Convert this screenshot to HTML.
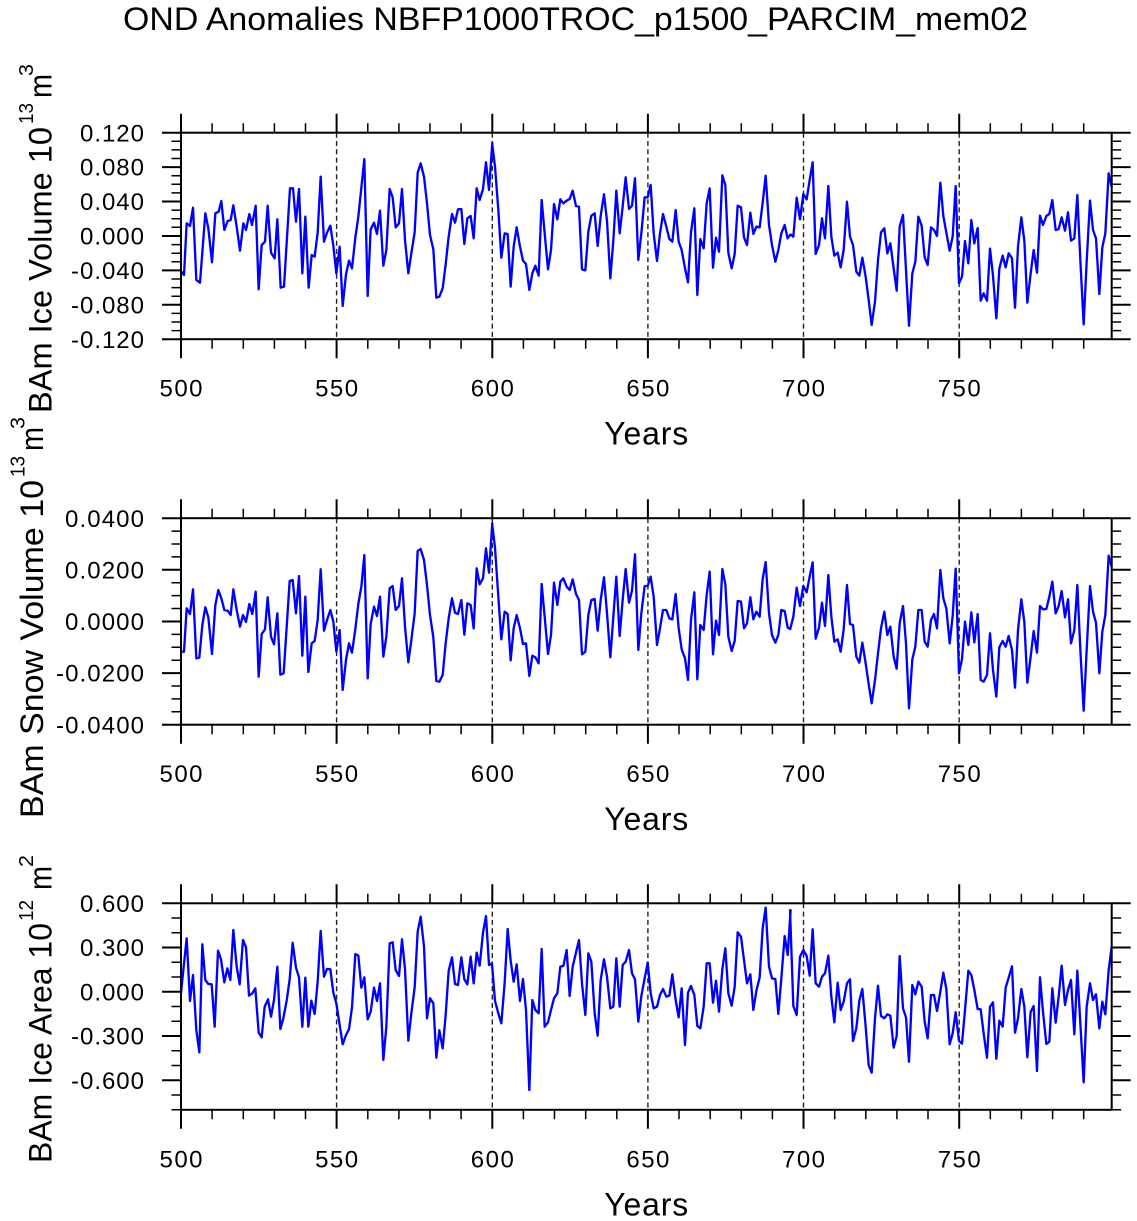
<!DOCTYPE html>
<html>
<head>
<meta charset="utf-8">
<style>
html,body{margin:0;padding:0;background:#fff;}
svg{display:block;}
text{font-family:"Liberation Sans",Arial,sans-serif;fill:#000;}
</style>
</head>
<body>
<svg width="1137" height="1221" viewBox="0 0 1137 1221" xmlns="http://www.w3.org/2000/svg">
<rect x="0" y="0" width="1137" height="1221" fill="#fff"/>
<defs>
  <g id="xtmaj"><path d="M181 0v-19M336.6 0v-19M492.3 0v-19M647.9 0v-19M803.5 0v-19M959.2 0v-19" stroke="#000" stroke-width="2" fill="none"/></g>
  <g id="xtmin"><path d="M212.1 0v-9.5M243.3 0v-9.5M274.4 0v-9.5M305.5 0v-9.5M367.8 0v-9.5M398.9 0v-9.5M430 0v-9.5M461.1 0v-9.5M523.4 0v-9.5M554.5 0v-9.5M585.7 0v-9.5M616.8 0v-9.5M679 0v-9.5M710.2 0v-9.5M741.3 0v-9.5M772.4 0v-9.5M834.7 0v-9.5M865.8 0v-9.5M896.9 0v-9.5M928 0v-9.5M990.3 0v-9.5M1021.4 0v-9.5M1052.6 0v-9.5M1083.7 0v-9.5" stroke="#000" stroke-width="1.5" fill="none"/></g>
  <g id="p1y">
    <path d="M181 132.7h-19M181 167.1h-19M181 201.5h-19M181 235.95h-19M181 270.4h-19M181 304.8h-19M181 339.2h-19" stroke="#000" stroke-width="2" fill="none"/>
    <path d="M181 141.3h-9.5M181 149.9h-9.5M181 158.5h-9.5M181 175.7h-9.5M181 184.3h-9.5M181 192.9h-9.5M181 210.1h-9.5M181 218.7h-9.5M181 227.3h-9.5M181 244.6h-9.5M181 253.2h-9.5M181 261.8h-9.5M181 279h-9.5M181 287.6h-9.5M181 296.2h-9.5M181 313.4h-9.5M181 322h-9.5M181 330.6h-9.5" stroke="#000" stroke-width="1.5" fill="none"/>
  </g>
  <g id="p2y">
    <path d="M181 518.2h-19M181 569.8h-19M181 621.45h-19M181 673.1h-19M181 724.7h-19" stroke="#000" stroke-width="2" fill="none"/>
    <path d="M181 531.1h-9.5M181 544h-9.5M181 556.9h-9.5M181 582.7h-9.5M181 595.6h-9.5M181 608.5h-9.5M181 634.4h-9.5M181 647.3h-9.5M181 660.2h-9.5M181 686h-9.5M181 698.9h-9.5M181 711.8h-9.5" stroke="#000" stroke-width="1.5" fill="none"/>
  </g>
  <g id="p3y">
    <path d="M181 903.3h-19M181 947.55h-19M181 991.8h-19M181 1036.05h-19M181 1080.3h-19" stroke="#000" stroke-width="2" fill="none"/>
    <path d="M181 918.05h-9.5M181 932.8h-9.5M181 962.3h-9.5M181 977.05h-9.5M181 1006.55h-9.5M181 1021.3h-9.5M181 1050.8h-9.5M181 1065.55h-9.5M181 1095.05h-9.5M181 1109.8h-9.5" stroke="#000" stroke-width="1.5" fill="none"/>
  </g>
</defs>

<!-- Title -->
<text x="123" y="30" font-size="32" textLength="905" lengthAdjust="spacingAndGlyphs">OND Anomalies NBFP1000TROC_p1500_PARCIM_mem02</text>

<!-- ================= PANEL 1 ================= -->
<g stroke="#222" stroke-width="1.4" stroke-dasharray="5 3.3" fill="none">
  <path d="M336.6 132.7V339.2M492.3 132.7V339.2M647.9 132.7V339.2M803.5 132.7V339.2M959.2 132.7V339.2"/>
</g>
<g transform="translate(170,110) scale(0.333333)" fill="none" stroke="#0000ff" stroke-width="7" stroke-linejoin="round">
<polyline points="35,485 42,495 50,340 60,348 69,293 79,510 90,518 106,310 115,355 126,457 136,310 146,305 154,273 163,360 173,333 182,330 190,286 200,350 210,422 220,340 228,360 238,312 246,345 257,287 266,538 275,405 285,395 293,287 303,428 314,445 322,328 332,533 342,530 360,235 369,235 378,335 387,237 397,490 406,320 416,533 425,435 434,440 443,368 452,200 462,395 471,368 481,347 490,407 499,490 509,410 518,588 528,493 537,452 546,475 556,383 565,320 583,147 593,558 602,358 612,338 621,372 630,302 640,467 649,420 659,237 668,262 677,352 687,340 696,237 705,390 715,490 724,430 734,367 743,188 752,160 762,200 771,280 780,375 790,418 799,563 808,560 818,535 827,463 836,380 846,312 855,338 864,298 874,297 883,402 892,325 902,318 911,385 920,235 929,270 939,237 948,157 957,240 967,97"/>
</g>
<g transform="translate(480,110) scale(0.333333)" fill="none" stroke="#0000ff" stroke-width="7" stroke-linejoin="round">
<polyline points="36,97 45,170 55,300 64,443 74,370 83,372 92,530 101,410 110,352 120,410 129,452 138,462 148,540 157,490 166,467 176,497 185,270 194,370 204,478 213,420 222,282 232,328 241,268 250,280 260,272 269,267 278,242 288,288 297,290 306,478 316,481 325,365 334,317 344,310 353,408 362,318 372,253 381,333 391,505 400,392 409,242 419,370 428,290 437,202 447,297 456,287 465,205 475,450 484,370 494,262 503,262 512,225 521,370 531,453 540,370 549,312 559,350 568,387 577,395 587,300 596,395 605,420 615,475 624,517 633,367 643,295 652,555 661,387 671,415 680,280 689,235 699,473 708,383 717,425 727,196 736,225 745,428 755,475 764,432 773,287 783,292 792,382 801,405 811,308 820,372 829,350 839,352 848,278 857,197 867,345 876,405 886,455 895,420 904,370 914,345 923,385 932,373"/>
</g>
<g transform="translate(790,110) scale(0.333333)" fill="none" stroke="#0000ff" stroke-width="7" stroke-linejoin="round">
<polyline points="0,372 10,380 20,263 30,328 40,252 50,268 59,210 68,157 77,432 87,405 96,325 105,385 115,228 124,380 133,437 143,428 152,472 161,420 171,275 180,380 189,405 199,485 208,497 217,443 227,500 236,570 245,645 255,575 264,450 273,367 283,355 292,430 301,400 311,475 320,542 329,350 339,315 348,480 357,647 367,490 376,455 385,320 395,347 404,442 413,465 423,352 432,360 441,378 451,218 460,318 469,368 479,422 488,380 497,228 507,520 516,500 525,393 535,460 544,330 553,400 563,354 572,572 581,550 591,572 600,416 609,497 619,625 628,476 638,437 647,472 656,430 666,445 675,593 684,410 694,322 703,392 712,578 722,490 731,420 741,488 750,317 759,345 769,318 778,312 787,270 797,360 806,357 815,322 825,362 834,307 843,392 853,385 862,255 871,450 881,643 890,455 900,272 909,360 918,385 928,552 937,412 946,370 956,190 965,230"/>
</g>
<rect x="181" y="132.7" width="930.7" height="206.5" fill="none" stroke="#000" stroke-width="2"/>
<use href="#xtmaj" transform="translate(0,132.7)"/>
<use href="#xtmin" transform="translate(0,132.7)"/>
<use href="#xtmaj" transform="translate(0,339.2) scale(1,-1)"/>
<use href="#xtmin" transform="translate(0,339.2) scale(1,-1)"/>
<use href="#p1y"/>
<use href="#p1y" transform="translate(1292.7,0) scale(-1,1)"/>
<g font-size="24" text-anchor="end" lengthAdjust="spacingAndGlyphs">
  <text x="144" y="141.3" textLength="64">0.120</text>
  <text x="144" y="175.7" textLength="64">0.080</text>
  <text x="144" y="210.1" textLength="64">0.040</text>
  <text x="144" y="244.55" textLength="64">0.000</text>
  <text x="144" y="279" textLength="73">-0.040</text>
  <text x="144" y="313.4" textLength="73">-0.080</text>
  <text x="144" y="347.8" textLength="73">-0.120</text>
</g>
<g font-size="24" text-anchor="middle">
  <text x="181" y="396.7" textLength="43">500</text>
  <text x="336.6" y="396.7" textLength="43">550</text>
  <text x="492.3" y="396.7" textLength="43">600</text>
  <text x="647.9" y="396.7" textLength="43">650</text>
  <text x="803.5" y="396.7" textLength="43">700</text>
  <text x="959.2" y="396.7" textLength="43">750</text>
</g>
<text x="646.3" y="444.5" font-size="32" text-anchor="middle" textLength="84">Years</text>
<text transform="translate(51.7,413) rotate(-90)" font-size="32" textLength="286" lengthAdjust="spacingAndGlyphs">BAm Ice Volume 10</text>
<text transform="translate(33,124) rotate(-90)" font-size="20" textLength="21" lengthAdjust="spacingAndGlyphs">13</text>
<text transform="translate(51.7,98) rotate(-90)" font-size="32" textLength="24" lengthAdjust="spacingAndGlyphs">m</text>
<text transform="translate(33,76) rotate(-90)" font-size="20" textLength="12" lengthAdjust="spacingAndGlyphs">3</text>

<!-- ================= PANEL 2 ================= -->
<g stroke="#222" stroke-width="1.4" stroke-dasharray="5 3.3" fill="none">
  <path d="M336.6 518.2V724.7M492.3 518.2V724.7M647.9 518.2V724.7M803.5 518.2V724.7M959.2 518.2V724.7"/>
</g>
<g transform="translate(170,500) scale(0.333333)" fill="none" stroke="#0000ff" stroke-width="7" stroke-linejoin="round">
<polyline points="35,455 42,455 50,325 60,342 69,268 79,475 88,473 97,375 106,322 115,352 126,462 136,315 145,270 154,295 163,330 173,332 182,345 190,268 200,330 210,380 219,345 228,366 238,312 247,342 257,275 266,530 275,402 285,388 293,292 303,410 312,433 322,340 331,524 341,520 359,243 368,240 378,340 387,228 397,467 406,290 415,516 425,430 434,423 443,360 452,208 462,392 471,360 481,330 490,365 499,455 509,390 518,570 528,480 537,430 546,458 556,387 565,312 574,260 583,165 593,535 602,372 612,320 621,348 630,290 640,470 649,410 659,265 668,258 677,330 687,318 696,235 705,380 715,487 724,420 734,340 743,153 752,147 762,180 771,255 780,345 790,412 799,543 808,545 818,525 827,430 836,355 846,295 855,338 864,342 874,300 883,404 892,310 902,315 911,385 920,205 929,253 939,235 948,145 957,218 967,68"/>
</g>
<g transform="translate(480,500) scale(0.333333)" fill="none" stroke="#0000ff" stroke-width="7" stroke-linejoin="round">
<polyline points="36,68 45,143 55,290 64,418 74,335 83,342 92,481 101,385 110,345 120,385 129,432 138,430 148,528 157,467 166,472 176,490 185,252 194,350 204,462 213,405 222,248 232,315 241,245 250,235 260,260 269,270 278,238 288,282 297,300 306,463 316,455 325,345 334,300 344,297 353,392 362,300 372,232 381,340 391,472 400,350 409,230 419,408 428,300 437,207 447,308 456,272 465,163 475,450 484,340 494,258 503,258 512,230 521,290 531,435 540,385 549,330 559,330 568,355 577,358 587,282 596,385 605,448 615,475 624,540 633,360 643,277 652,538 661,375 671,390 680,285 689,215 699,463 708,362 717,405 727,207 736,253 745,410 755,453 764,423 773,303 783,305 792,385 801,370 811,292 820,358 829,335 839,350 848,237 857,186 867,340 876,405 886,428 895,405 904,330 914,333 923,383 932,387"/>
</g>
<g transform="translate(790,500) scale(0.333333)" fill="none" stroke="#0000ff" stroke-width="7" stroke-linejoin="round">
<polyline points="0,390 10,350 20,263 30,318 40,258 50,277 59,230 68,187 77,416 87,383 96,308 105,378 115,225 124,350 133,425 143,418 152,455 161,388 171,255 180,372 189,375 199,470 208,488 217,428 227,490 236,552 245,610 255,540 264,460 273,385 283,335 292,405 301,380 311,470 320,506 329,370 339,318 348,430 357,625 367,478 376,440 385,330 395,330 404,425 413,440 423,360 432,342 441,385 451,210 460,295 469,325 479,430 488,348 497,206 507,520 516,477 525,365 535,435 544,337 553,427 563,342 572,540 581,545 591,525 600,400 609,510 619,590 628,442 638,423 647,440 656,408 666,450 675,563 684,390 694,298 703,366 712,548 722,470 731,393 741,458 750,318 759,328 769,327 778,290 787,245 797,340 806,318 815,273 825,352 834,298 843,430 853,390 862,255 871,448 881,632 890,450 900,258 909,335 918,368 928,520 937,395 946,345 956,167 965,200"/>
</g>
<rect x="181" y="518.2" width="930.7" height="206.5" fill="none" stroke="#000" stroke-width="2"/>
<use href="#xtmaj" transform="translate(0,518.2)"/>
<use href="#xtmin" transform="translate(0,518.2)"/>
<use href="#xtmaj" transform="translate(0,724.7) scale(1,-1)"/>
<use href="#xtmin" transform="translate(0,724.7) scale(1,-1)"/>
<use href="#p2y"/>
<use href="#p2y" transform="translate(1292.7,0) scale(-1,1)"/>
<g font-size="24" text-anchor="end" lengthAdjust="spacingAndGlyphs">
  <text x="144" y="526.8" textLength="79">0.0400</text>
  <text x="144" y="578.4" textLength="79">0.0200</text>
  <text x="144" y="630.05" textLength="79">0.0000</text>
  <text x="144" y="681.7" textLength="88">-0.0200</text>
  <text x="144" y="733.3" textLength="88">-0.0400</text>
</g>
<g font-size="24" text-anchor="middle">
  <text x="181" y="782.2" textLength="43">500</text>
  <text x="336.6" y="782.2" textLength="43">550</text>
  <text x="492.3" y="782.2" textLength="43">600</text>
  <text x="647.9" y="782.2" textLength="43">650</text>
  <text x="803.5" y="782.2" textLength="43">700</text>
  <text x="959.2" y="782.2" textLength="43">750</text>
</g>
<text x="646.3" y="830" font-size="32" text-anchor="middle" textLength="84">Years</text>
<text transform="translate(43,818) rotate(-90)" font-size="32" textLength="338" lengthAdjust="spacingAndGlyphs">BAm Snow Volume 10</text>
<text transform="translate(24.3,477) rotate(-90)" font-size="20" textLength="21" lengthAdjust="spacingAndGlyphs">13</text>
<text transform="translate(43,451) rotate(-90)" font-size="32" textLength="24" lengthAdjust="spacingAndGlyphs">m</text>
<text transform="translate(24.3,429) rotate(-90)" font-size="20" textLength="12" lengthAdjust="spacingAndGlyphs">3</text>

<!-- ================= PANEL 3 ================= -->
<g stroke="#222" stroke-width="1.4" stroke-dasharray="5 3.3" fill="none">
  <path d="M336.6 903.3V1109.8M492.3 903.3V1109.8M647.9 903.3V1109.8M803.5 903.3V1109.8M959.2 903.3V1109.8"/>
</g>
<g transform="translate(170,870) scale(0.333333)" fill="none" stroke="#0000ff" stroke-width="7" stroke-linejoin="round">
<polyline points="33,370 40,300 50,205 60,393 69,315 79,480 88,547 97,223 106,330 115,342 125,343 134,470 144,242 153,268 163,337 172,295 181,330 190,180 200,290 209,343 219,210 228,232 237,377 247,370 256,355 266,488 275,502 284,410 294,388 303,440 312,390 322,290 331,477 340,445 350,392 359,328 368,218 378,293 387,322 397,470 406,323 415,470 424,392 434,432 443,335 452,183 462,320 471,297 481,298 490,368 499,400 509,465 518,523 528,495 537,478 546,412 556,252 565,257 574,353 583,322 593,448 602,425 612,353 621,393 630,340 640,570 649,470 659,220 668,217 677,300 687,318 696,208 705,297 715,512 724,430 734,352 743,185 752,140 762,230 771,445 780,385 790,400 799,563 808,481 818,535 827,435 836,303 846,262 855,342 864,345 874,262 883,328 892,343 902,260 911,340 920,248 929,287 939,188 948,138 957,285 967,280"/>
</g>
<g transform="translate(480,870) scale(0.333333)" fill="none" stroke="#0000ff" stroke-width="7" stroke-linejoin="round">
<polyline points="36,282 45,393 55,430 64,460 74,338 83,177 92,272 101,335 110,283 120,393 129,327 138,420 148,660 157,390 166,420 176,430 185,237 194,470 204,457 213,420 222,385 232,370 241,290 250,288 260,240 269,378 278,290 288,248 297,210 306,340 316,435 325,250 334,275 344,430 353,497 362,330 372,268 381,320 391,415 400,410 409,265 419,410 428,285 437,275 447,240 456,310 465,328 475,455 484,378 494,325 503,278 512,370 521,415 531,410 540,375 549,357 559,380 568,377 577,313 587,390 596,442 605,355 615,525 624,368 633,348 643,375 652,468 661,475 671,410 680,280 689,280 699,398 708,332 717,425 727,297 736,235 745,370 755,407 764,350 773,187 783,200 792,270 801,340 811,313 820,420 829,363 839,322 848,175 857,113 867,290 876,325 886,327 895,432 904,325 914,198 923,255 932,118"/>
</g>
<g transform="translate(790,870) scale(0.333333)" fill="none" stroke="#0000ff" stroke-width="7" stroke-linejoin="round">
<polyline points="0,118 10,408 20,435 30,260 40,240 50,258 59,317 68,178 77,340 87,350 96,320 105,310 115,257 124,380 133,457 143,338 152,420 161,395 171,340 180,328 189,513 199,475 208,392 217,357 227,470 236,585 245,608 255,445 264,347 273,438 283,445 292,433 301,437 311,533 320,498 329,258 339,415 348,442 357,575 367,345 376,373 385,335 395,350 404,455 413,505 423,375 432,375 441,423 451,365 460,308 469,357 479,523 488,490 497,427 507,513 516,521 525,420 535,302 544,315 553,360 563,417 572,418 581,490 591,563 600,410 609,397 619,566 628,452 638,470 647,353 656,323 666,289 675,488 684,445 694,357 703,410 712,562 722,425 731,408 741,603 750,322 759,425 769,522 778,515 787,355 797,458 806,380 815,287 825,405 834,360 843,330 853,493 862,302 871,460 881,637 890,410 900,340 909,390 918,373 928,475 937,395 946,433 956,300 965,230"/>
</g>
<rect x="181" y="903.3" width="930.7" height="206.5" fill="none" stroke="#000" stroke-width="2"/>
<use href="#xtmaj" transform="translate(0,903.3)"/>
<use href="#xtmin" transform="translate(0,903.3)"/>
<use href="#xtmaj" transform="translate(0,1109.8) scale(1,-1)"/>
<use href="#xtmin" transform="translate(0,1109.8) scale(1,-1)"/>
<use href="#p3y"/>
<use href="#p3y" transform="translate(1292.7,0) scale(-1,1)"/>
<g font-size="24" text-anchor="end" lengthAdjust="spacingAndGlyphs">
  <text x="144" y="911.9" textLength="64">0.600</text>
  <text x="144" y="956.15" textLength="64">0.300</text>
  <text x="144" y="1000.4" textLength="64">0.000</text>
  <text x="144" y="1044.65" textLength="73">-0.300</text>
  <text x="144" y="1088.9" textLength="73">-0.600</text>
</g>
<g font-size="24" text-anchor="middle">
  <text x="181" y="1167.3" textLength="43">500</text>
  <text x="336.6" y="1167.3" textLength="43">550</text>
  <text x="492.3" y="1167.3" textLength="43">600</text>
  <text x="647.9" y="1167.3" textLength="43">650</text>
  <text x="803.5" y="1167.3" textLength="43">700</text>
  <text x="959.2" y="1167.3" textLength="43">750</text>
</g>
<text x="646.3" y="1215.5" font-size="32" text-anchor="middle" textLength="84">Years</text>
<text transform="translate(51.7,1163) rotate(-90)" font-size="32" textLength="240" lengthAdjust="spacingAndGlyphs">BAm Ice Area 10</text>
<text transform="translate(33,921) rotate(-90)" font-size="20" textLength="21" lengthAdjust="spacingAndGlyphs">12</text>
<text transform="translate(51.7,890) rotate(-90)" font-size="32" textLength="24" lengthAdjust="spacingAndGlyphs">m</text>
<text transform="translate(33,867) rotate(-90)" font-size="20" textLength="12" lengthAdjust="spacingAndGlyphs">2</text>
</svg>
</body>
</html>
